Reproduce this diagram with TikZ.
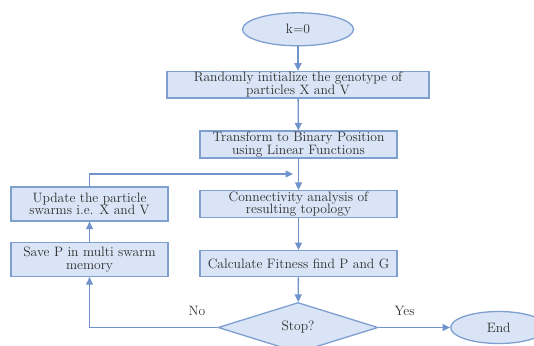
\documentclass[tikz,border=0pt]{standalone}
\usepackage{xcolor}
\usepackage{tikz}
\usetikzlibrary{shapes.geometric,arrows.meta}
\definecolor{fcfill}{HTML}{D9E5F6}
\definecolor{fcline}{HTML}{7F9FD0}
\definecolor{fcarrow}{HTML}{6F93CA}
\definecolor{fctext}{HTML}{2E2E2E}

\begin{document}
\begin{tikzpicture}[x=1pt, y=-1pt,
  every node/.style={text=fctext, font=\fontsize{13.6}{12.6}\selectfont},
  procbox/.style={draw=fcline, line width=1.3pt, fill=fcfill, inner sep=1pt, align=center},
  termnode/.style={ellipse, draw=fcline, line width=1.3pt, fill=fcfill, inner sep=1pt},
  decnode/.style={diamond, draw=fcline, line width=1.3pt, fill=fcfill, inner sep=1pt, aspect=3.2},
  arr/.style={draw=fcarrow, line width=1.3pt, -{Triangle[length=7.5pt, width=7pt]}}]
  \useasboundingbox (0,0) rectangle (534,345);
  \node[termnode, minimum width=111pt, minimum height=33pt] (kz) at (298,29.3) {k=0};
  \node[procbox, minimum width=262pt, minimum height=26pt] (init) at (298,84.7) {Randomly initialize the genotype of\\particles X and V};
  \node[procbox, minimum width=197pt, minimum height=26pt] (bin) at (298.5,144.5) {Transform to Binary Position\\using Linear Functions};
  \node[procbox, minimum width=197pt, minimum height=26pt] (conn) at (298.5,204) {Connectivity analysis of\\resulting topology};
  \node[procbox, minimum width=197pt, minimum height=26pt] (fit) at (298.5,263.7) {Calculate Fitness find P and G};
  \node[decnode, minimum width=160pt, minimum height=50pt] (stop) at (298,327.5) {Stop?};
  \node[termnode, minimum width=96pt, minimum height=32pt] (end) at (498.7,327.5) {End};
  \node[procbox, minimum width=157pt, minimum height=34pt] (upd) at (89.5,204) {Update the particle\\swarms i.e. X and V};
  \node[procbox, minimum width=157pt, minimum height=34pt] (save) at (89.5,259.5) {Save P in multi swarm\\memory};
  \node (no) at (197,310.7) {No};
  \node (yes) at (404.6,310.7) {Yes};
  \coordinate (fb) at (293,174);

  \draw[arr] (kz) -- (init);
  \draw[arr] (init) -- (bin);
  \draw[arr] (bin) -- (conn);
  \draw[arr] (conn) -- (fit);
  \draw[arr] (fit) -- (stop);
  \draw[arr] (stop) -- (end);
  \draw[arr] (stop.west) -| (save.south);
  \draw[arr] (save) -- (upd);
  \draw[arr] (upd.north) |- (fb);
\end{tikzpicture}
\end{document}
